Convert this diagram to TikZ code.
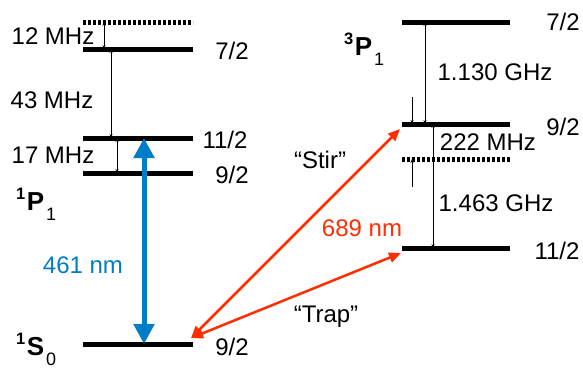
\documentclass[tikz,border=0pt]{standalone}
\usepackage{fontspec}
\setmainfont{Liberation Sans}
\usetikzlibrary{arrows.meta}

\definecolor{bluebeam}{RGB}{0,125,200}
\definecolor{redbeam}{RGB}{255,45,0}

% term symbol: superscript, letter, subscript
\newcommand{\termsym}[3]{%
    \raisebox{11pt}{\fontsize{16.5}{16.5}\selectfont\bfseries #1}\kern1.5pt%
    {\fontsize{26}{28}\selectfont\bfseries #2}\kern2pt%
    \raisebox{-10pt}{\fontsize{18}{18}\selectfont #3}}

\tikzset{
    hfline/.style={line width=5pt},
    hfdotted/.style={line width=5pt, dash pattern=on 3pt off 2pt},
    split/.style={line width=0.6pt, {Stealth[length=4pt,width=3pt]}-{Stealth[length=4pt,width=3pt]}},
    shift arrow/.style={line width=0.6pt, -{Stealth[length=4pt,width=3pt]}},
    label text/.style={font=\fontsize{24}{28}\selectfont, inner sep=0pt},
    term text/.style={font=\fontsize{24}{28}\selectfont, inner sep=0pt, anchor=base west}
}

\begin{document}
\begin{tikzpicture}[x=1pt, y=-1pt]
    \useasboundingbox (0,0) rectangle (583,368);

    % 1P1 hyperfine levels
    \begin{scope}
        \coordinate (Pv)   at (83,22);
        \coordinate (P72)  at (83,49);
        \coordinate (P112) at (83,138);
        \coordinate (P92)  at (83,173);

        \draw[hfdotted] (Pv) -- ++(110,0);
        \draw[hfline] (P72) -- ++(110,0);
        \draw[hfline] (P112) -- ++(110,0);
        \draw[hfline] (P92) -- ++(110,0);

        \node[label text] (lP72)  at (232,51)  {7/2};
        \node[label text] (lP112) at (225,140) {11/2};
        \node[label text] (lP92)  at (232,175) {9/2};

        \draw[split] ([xshift=21pt]Pv) -- ([xshift=21pt]P72);
        \draw[split] ([xshift=28pt]P72) -- ([xshift=28pt]P112);
        \draw[split] ([xshift=34pt]P112) -- ([xshift=34pt]P92);

        \node[label text] (f12) at (53,36)  {12 MHz};
        \node[label text] (f43) at (52,100) {43 MHz};
        \node[label text] (f17) at (53,155) {17 MHz};

        \node[term text] (termP) at (16,210) {\termsym{1}{P}{1}};
    \end{scope}

    % 1S0 ground level
    \begin{scope}
        \coordinate (S92) at (83,344);
        \draw[hfline] (S92) -- ++(110,0);
        \node[label text] (lS92) at (232,347) {9/2};
        \node[term text] (termS) at (16,355) {\termsym{1}{S}{0}};
    \end{scope}

    % 3P1 hyperfine levels
    \begin{scope}
        \coordinate (T72)  at (402,22);
        \coordinate (T92)  at (402,124);
        \coordinate (Tv)   at (402,159);
        \coordinate (T112) at (402,248);

        \draw[hfline] (T72) -- ++(108,0);
        \draw[hfline] (T92) -- ++(108,0);
        \draw[hfdotted] (Tv) -- ++(108,0);
        \draw[hfline] (T112) -- ++(108,0);

        \node[label text] (lT72)  at (563,22)  {7/2};
        \node[label text] (lT92)  at (563,127) {9/2};
        \node[label text] (lT112) at (557,251) {11/2};

        \draw[split] ([xshift=23pt]T72) -- ([xshift=23pt]T92);
        \draw[split] ([xshift=31pt]T92) -- ([xshift=31pt]T112);
        \draw[shift arrow] ([xshift=10pt,yshift=27pt]T92) -- ([xshift=10pt]T92);
        \draw[shift arrow] ([xshift=10pt,yshift=-28pt]Tv) -- ([xshift=10pt]Tv);

        \node[label text] (f1130) at (495,72)  {1.130 GHz};
        \node[label text] (f222)  at (488,142) {222 MHz};
        \node[label text] (f1463) at (496,203) {1.463 GHz};

        \node[term text] (termT) at (344,55) {\termsym{3}{P}{1}};
    \end{scope}

    % 461 nm transition
    \draw[bluebeam, line width=5pt, {Triangle[length=20pt,width=20pt]}-{Triangle[length=20pt,width=20pt]}]
        ([xshift=61pt]P112) -- ([xshift=61pt]S92);
    \node[label text, text=bluebeam] (blue) at (83,265) {461 nm};

    % 689 nm transitions
    \coordinate (Sred) at (191,338);
    \coordinate (Tstir) at (400,129);
    \coordinate (Ttrap) at (401,253);
    \draw[redbeam, line width=2.5pt, {Triangle[length=12pt,width=10pt]}-{Triangle[length=12pt,width=10pt]}]
        (Sred) -- (Tstir);
    \draw[redbeam, line width=2.5pt, {Triangle[length=12pt,width=10pt]}-{Triangle[length=12pt,width=10pt]}]
        (Sred) -- (Ttrap);
    \node[label text, text=redbeam] (red) at (362,228) {689 nm};
    \node[label text] (stir) at (320,160) {“Stir”};
    \node[label text] (trap) at (326,317) {“Trap”};
\end{tikzpicture}
\end{document}
